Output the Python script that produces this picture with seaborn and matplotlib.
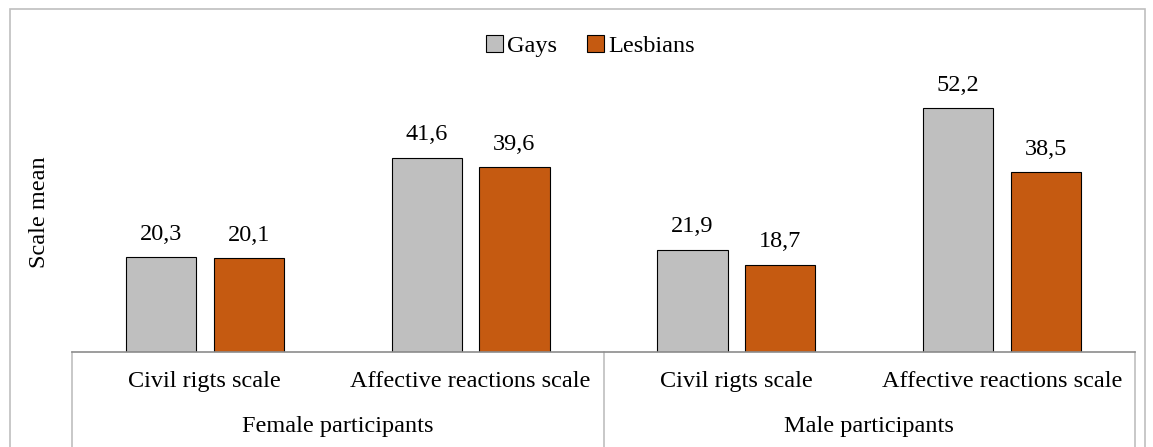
import matplotlib

matplotlib.use("Agg")

import matplotlib.pyplot as plt
import pandas as pd
import seaborn as sns
from matplotlib.lines import Line2D
from matplotlib.patches import Rectangle

# chart values
groups = ["Female participants", "Female participants", "Male participants", "Male participants"]
scales = ["Civil rigts scale", "Affective reactions scale", "Civil rigts scale", "Affective reactions scale"]
series = ["Gays", "Lesbians"]
gays = [20.3, 41.6, 21.9, 52.2]
lesbians = [20.1, 39.6, 18.7, 38.5]
group_names = ["Female participants", "Male participants"]

colors = {"Gays": "#BFBFBF", "Lesbians": "#C55A11"}

rows = []
for i, (g, s) in enumerate(zip(groups, scales)):
    key = f"{g}|{s}"
    rows.append({"cat": key, "series": "Gays", "value": gays[i]})
    rows.append({"cat": key, "series": "Lesbians", "value": lesbians[i]})
df = pd.DataFrame(rows)
order = [f"{g}|{s}" for g, s in zip(groups, scales)]

sns.set_style("white")
plt.rcParams["font.family"] = ["Liberation Serif", "DejaVu Serif"]
plt.rcParams["text.color"] = "black"
plt.rcParams["axes.labelcolor"] = "black"
plt.rcParams["xtick.color"] = "black"

FS = 17.5
W, H = 1153, 447
fig = plt.figure(figsize=(W / 100, H / 100), dpi=100)
ax = fig.add_axes([72 / W, (H - 352) / H, (1135 - 72) / W, (352 - 72) / H])

sns.barplot(
    data=df, x="cat", y="value", hue="series", order=order, hue_order=series,
    palette=colors, saturation=1, width=0.66, gap=0.2, edgecolor="black", linewidth=0.8,
    errorbar=None, ax=ax, legend=False,
)

for cont in ax.containers:
    labels = [f"{b.get_height():.1f}".replace(".", ",") for b in cont]
    ax.bar_label(cont, labels=labels, padding=9, fontsize=FS)

ax.set_ylim(0, 60)
ax.set_xlim(-0.5, len(order) - 0.5)
ax.set_yticks([])
ax.set_ylabel("Scale mean", fontsize=FS, labelpad=16)
ax.set_xlabel("")
ax.set_xticks(range(len(order)))
ax.set_xticklabels(scales, fontsize=FS)
ax.tick_params(axis="x", length=0, pad=14)

for side in ["top", "right", "left"]:
    ax.spines[side].set_visible(False)
ax.spines["bottom"].set_color("#8C8C8C")
ax.spines["bottom"].set_linewidth(1.2)

# group labels and separators
n_per = len(order) // len(group_names)
for k, name in enumerate(group_names):
    xc = (k * n_per + (k + 1) * n_per) / 2 / len(order)
    ax.text(xc, -0.267, name, transform=ax.transAxes, ha="center", va="center", fontsize=FS)
for xs in [0, 0.5, 1.0]:
    ax.add_line(Line2D([xs, xs], [0, -0.4], transform=ax.transAxes, color="#BFBFBF",
                       linewidth=1.2, clip_on=False))

handles = [Rectangle((0, 0), 1, 1, facecolor=colors[s], edgecolor="black", linewidth=0.8) for s in series]
fig.legend(handles, series, loc="center", bbox_to_anchor=(0.512, 1 - 46 / H), ncol=2,
           frameon=False, fontsize=FS, handlelength=0.7, handleheight=0.7,
           handletextpad=0.2, columnspacing=1.2)

fig.add_artist(Rectangle((10 / W, -0.05), (1145 - 10) / W, 1 - 9 / H + 0.05, fill=False,
                         edgecolor="#BFBFBF", linewidth=1.2, transform=fig.transFigure))

fig.savefig("out.png", dpi=100)
